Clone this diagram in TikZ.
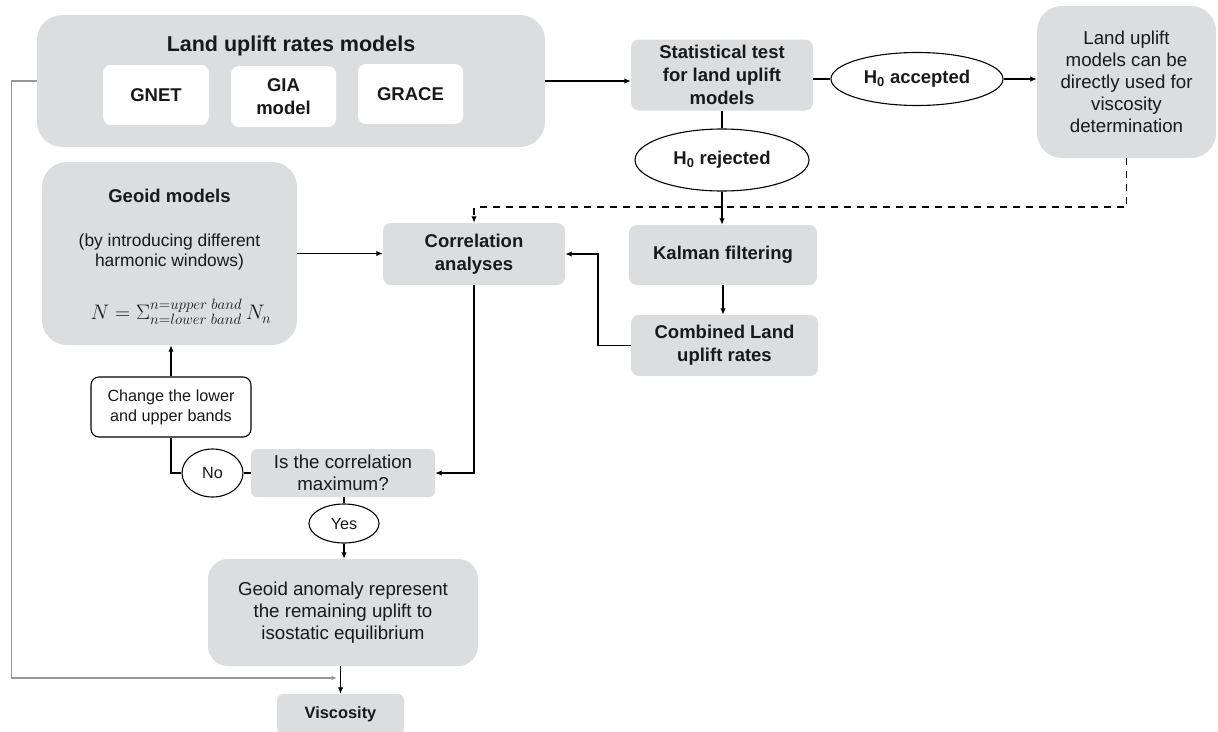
\documentclass[tikz,border=0pt]{standalone}
\usepackage{fix-cm}
\usepackage{fontspec}
\setmainfont{Liberation Sans}
\usetikzlibrary{arrows.meta,shapes.geometric}
\definecolor{boxgray}{RGB}{220,221,223}
\definecolor{txt}{RGB}{25,25,25}
\definecolor{lgray}{RGB}{150,150,150}
\newcommand\fsT{\fontsize{21.5}{25}\selectfont\bfseries}
\newcommand\fsB{\fontsize{18.5}{23}\selectfont\bfseries}
\newcommand\fsR{\fontsize{18.7}{22}\selectfont}
\newcommand\fsQ{\fontsize{17.4}{20.5}\selectfont}
\newcommand\fsS{\fontsize{16.2}{20}\selectfont}
\newcommand\fsV{\fontsize{16.4}{20}\selectfont\bfseries}
\newcommand\limtext[1]{\mbox{\fontsize{15}{15}\selectfont$#1$}}
\begin{document}
\begin{tikzpicture}[x=1pt,y=-1pt,
  gbox/.style={fill=boxgray, draw=none, rounded corners=#1, align=center, inner sep=0pt, text=txt},
  wbox/.style={fill=white, draw=none, rounded corners=8pt, align=center, inner sep=0pt, text=txt},
  obox/.style={fill=white, draw=black, line width=1.1pt, rounded corners=8pt, align=center, inner sep=0pt, text=txt},
  oval/.style={ellipse, fill=white, draw=black, line width=1.1pt, inner sep=0pt, align=center, text=txt},
  conn/.style={line width=1.6pt, draw=black},
  arr/.style={conn, -{Latex[length=6.5pt,width=5.5pt]}},
  dasharr/.style={arr, dash pattern=on 7pt off 6pt, line width=1.9pt},
  grayarr/.style={draw=lgray, line width=1.1pt, -{Latex[length=5.5pt,width=4.5pt]}}
]
\useasboundingbox (0,0) rectangle (1218,731);

% Land uplift rates models
\node[gbox=25pt, minimum width=508pt, minimum height=132pt] (land) at (291,81) {};
\node[font=\fsT, text=txt, inner sep=0pt] (landtitle) at (291,46) {Land uplift rates models};
\node[wbox, font=\fsB, minimum width=106pt, minimum height=60pt] (gnet) at (156,95) {GNET};
\node[wbox, font=\fsB, minimum width=105pt, minimum height=61pt] (gia) at (283.5,96.5) {GIA\\model};
\node[wbox, font=\fsB, minimum width=105pt, minimum height=60pt] (grace) at (410.5,94) {GRACE};

% Statistical test
\node[gbox=8pt, font=\fsB, minimum width=182pt, minimum height=71pt] (stat) at (722,75) {Statistical test\\for land uplift\\models};
\node[oval, font=\fsB, minimum width=172pt, minimum height=53pt] (acc) at (917,79) {H\textsubscript{0} accepted};
\node[gbox=25pt, font=\fsR, minimum width=179pt, minimum height=152pt] (direct) at (1126.5,82) {Land uplift\\models can be\\directly used for\\viscosity\\determination};
\node[oval, font=\fsB, minimum width=174pt, minimum height=62pt] (rej) at (722,160) {H\textsubscript{0} rejected};

% Middle row
\node[gbox=25pt, minimum width=255pt, minimum height=183pt] (geoid) at (169.5,253.5) {};
\node[font=\fsB, text=txt, inner sep=0pt] (geoidtitle) at (169.5,196) {Geoid models};
\node[font=\fsQ, text=txt, inner sep=0pt, align=center] (geoidsub) at (169.5,252) {(by introducing different\\harmonic windows)};
\node[text=txt, inner sep=0pt, font=\fontsize{21}{25}\selectfont] (geoidfor) at (181,312) {$N=\Sigma^{\limtext{n{=}upper\ band}}_{\limtext{n{=}lower\ band}}\,N_n$};
\node[gbox=8pt, font=\fsB, minimum width=182pt, minimum height=62pt] (corr) at (474,254) {Correlation\\analyses};
\node[gbox=8pt, font=\fsB, minimum width=188pt, minimum height=60pt] (kalman) at (723,255) {Kalman filtering};
\node[gbox=8pt, font=\fsB, minimum width=187pt, minimum height=61pt] (comb) at (724.5,345.5) {Combined Land\\uplift rates};

% Lower part
\node[obox, font=\fsS, minimum width=160pt, minimum height=60pt] (change) at (171,407) {Change the lower\\and upper bands};
\node[oval, font=\fsS, minimum width=61pt, minimum height=48pt] (no) at (212.5,473) {No};
\node[gbox=6pt, font=\fsR, minimum width=184pt, minimum height=48pt] (ismax) at (343,473) {Is the correlation\\maximum?};
\node[oval, font=\fsS, minimum width=70pt, minimum height=39pt] (yes) at (344,523.5) {Yes};
\node[gbox=20pt, font=\fsR, minimum width=270pt, minimum height=107pt] (anom) at (343,612.5) {Geoid anomaly represent\\the remaining uplift to\\isostatic equilibrium};
\node[gbox=6pt, font=\fsV, minimum width=127pt, minimum height=40pt] (visc) at (340.5,714) {Viscosity};

% Connectors
\draw[arr] (land.east) -- (land.east -| stat.west);
\draw[conn] (acc.west -| stat.east) -- (acc.west);
\draw[arr] (acc.east) -- (acc.east -| direct.west);
\draw[conn] (stat.south) -- (rej.north);
\draw[arr] (rej.south) -- (kalman.north -| rej.south);
\draw[arr] (kalman.south) -- (kalman.south |- comb.north);
\draw[arr] (comb.west) -- ++(-33,0) |- (corr.east);
\draw[arr] (geoid.east) -- (geoid.east -| corr.west);
\draw[dasharr] (direct.south) -- ++(0,49) -| (corr.north);
\draw[arr] (corr.south) |- (ismax.east);
\draw[conn] (ismax.west) -- (no.east);
\draw[conn] (no.west) -| (change.south);
\draw[arr] (change.north) -- (change.north |- geoid.south);
\draw[conn] (ismax.south -| yes.north) -- (yes.north);
\draw[arr] (yes.south) -- (yes.south |- anom.north);
\draw[arr] (anom.south -| visc.north) -- (visc.north);
\coordinate (gend) at (337,678);
\draw[grayarr] (land.west) -- ++(-25,0) |- (gend);
\end{tikzpicture}
\end{document}
